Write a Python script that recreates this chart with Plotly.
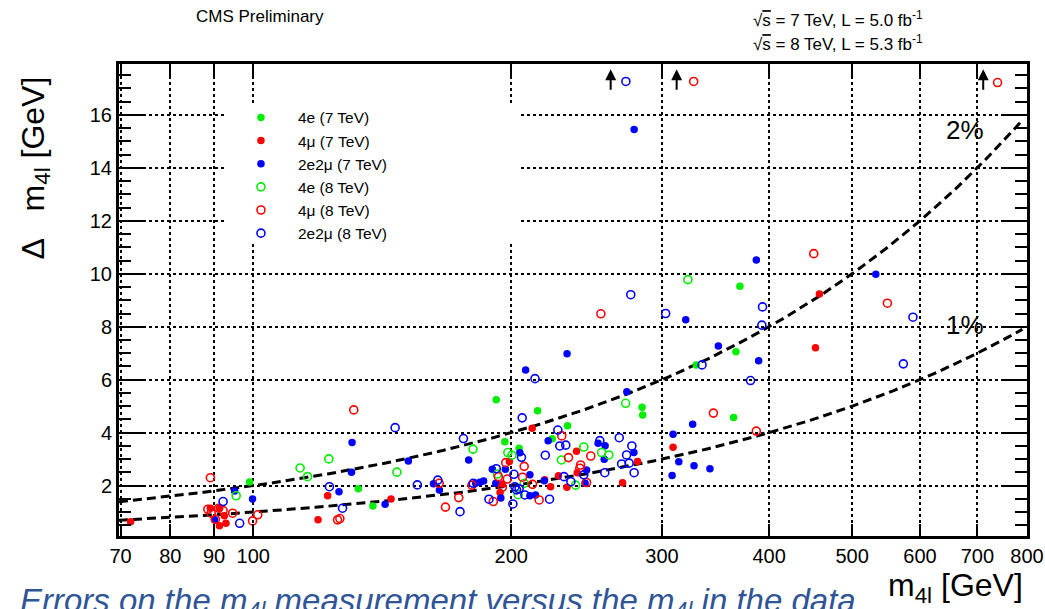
import numpy as np
import plotly.graph_objects as go

# ---------------- data ----------------
# 4e (7 TeV) - filled green
m_4e_7 = [99.0, 132.6, 137.9, 192.1, 196.6, 204.3, 214.7, 223.3, 232.7, 284.3, 284.8, 328.9, 363.6, 365.9, 369.8]
d_4e_7 = [2.14, 1.88, 1.23, 5.24, 3.66, 3.41, 4.83, 3.77, 4.26, 4.96, 4.67, 6.56, 4.57, 7.06, 9.53]

# 4mu (7 TeV) - filled red
m_4mu_7 = [71.9, 89.1, 91.3, 91.3, 92.5, 92.9, 119.0, 122.1, 144.8, 194.1, 195.3, 199.0, 211.6, 218.8, 222.3,
           227.1, 232.3, 238.4, 238.8, 269.8, 280.9, 309.0, 453.1, 457.9]
d_4mu_7 = [0.64, 1.15, 1.15, 0.49, 0.86, 0.58, 0.71, 1.62, 1.50, 1.74, 2.06, 2.91, 4.17, 2.22, 1.96,
           2.37, 1.94, 3.30, 2.49, 2.11, 2.91, 3.45, 7.21, 9.24]

# 2e2mu (7 TeV) - filled blue
m_2e2mu_7 = [90.1, 95.1, 99.8, 125.9, 130.2, 130.4, 142.5, 151.7, 162.3, 164.9,
             178.4, 181.8, 183.9, 185.7, 190.1, 191.9, 194.5, 196.9, 204.7, 207.9,
             210.3, 210.3, 213.5, 218.6, 220.9, 232.4, 243.9, 244.9, 252.6, 256.8,
             257.4, 272.9, 278.1, 278.3, 308.2, 309.0, 313.8, 319.7, 325.7, 326.9,
             341.2, 349.0, 386.5, 388.9, 532.8]
d_2e2mu_7 = [0.71, 1.80, 1.50, 1.77, 2.51, 3.63, 1.30, 2.93, 2.07, 1.84,
             2.97, 2.09, 2.13, 2.18, 2.62, 2.09, 1.53, 2.62, 3.24, 6.37,
             2.41, 1.62, 1.65, 2.19, 3.70, 6.98, 2.09, 2.59, 3.60, 3.00,
             3.51, 5.55, 3.25, 15.45, 2.38, 3.94, 2.90, 8.26, 4.32, 2.75,
             2.64, 7.27, 10.52, 6.72, 9.98]

# 4e (8 TeV) - open green
m_4e_8 = [95.5, 113.4, 115.7, 122.5, 147.1, 180.5, 192.7, 198.2, 200.4, 203.8, 207.1, 228.9, 237.8, 243.1,
          255.0, 260.0, 272.0, 321.6]
d_4e_8 = [1.62, 2.67, 2.34, 3.01, 2.51, 3.38, 2.44, 3.25, 3.15, 1.66, 2.09, 2.97, 2.02, 3.46,
          3.25, 3.16, 5.11, 9.78]

# 4mu (8 TeV) - open red (values at ~17.2 are overflow, drawn at the top with an arrow)
m_4mu_8 = [88.5, 89.1, 89.3, 90.3, 91.1, 92.2, 94.6, 99.8, 101.2,
           125.4, 126.2, 131.0,
           164.8, 167.6, 173.7, 180.0, 190.6, 193.2, 195.3, 197.1, 197.9,
           206.2, 207.1, 211.8, 215.6,
           229.1, 233.3, 240.5, 241.0, 244.9, 247.7, 254.5,
           326.6, 344.4, 386.5, 451.0, 549.7, 739.1]
d_4mu_8 = [1.11, 2.30, 0.96, 0.73, 1.15, 1.06, 0.96, 0.67, 0.90,
           0.71, 0.76, 4.86,
           2.09, 1.19, 1.55, 2.02, 1.40, 2.34, 1.94, 2.87, 2.25,
           2.32, 2.73, 2.05, 1.46,
           3.88, 3.06, 2.66, 2.78, 2.12, 3.12, 8.49,
           17.26, 4.74, 4.06, 10.76, 8.89, 17.22]

# 2e2mu (8 TeV) - open blue
m_2e2mu_8 = [92.2, 96.4, 122.7, 127.1, 146.4, 155.4, 164.2, 174.3, 175.9, 180.6,
             188.4, 192.1, 200.9, 201.5, 202.0, 202.9, 204.3, 205.6, 206.0, 207.5,
             213.2, 219.2, 221.7, 226.7, 227.9, 230.5, 231.6, 234.8, 243.1, 253.8,
             257.2, 267.4, 269.1, 272.2, 272.7, 274.6, 275.8, 276.6, 278.3, 302.9,
             334.0, 380.5, 392.3, 393.0, 573.8, 588.8]
d_2e2mu_8 = [1.40, 0.58, 1.96, 1.15, 4.19, 2.03, 2.21, 1.02, 3.78, 2.09,
             1.49, 2.64, 1.31, 2.43, 1.96, 1.84, 1.88, 3.07, 4.56, 1.65,
             6.04, 3.15, 1.49, 4.10, 3.50, 2.34, 3.53, 2.15, 2.41, 3.70,
             2.49, 3.81, 2.82, 17.26, 3.16, 2.85, 9.21, 3.50, 2.49, 8.50,
             6.56, 5.97, 8.06, 8.75, 6.60, 8.36]

# overflow arrows (m4l positions)
arrow_m = [261.3, 312.0, 711.2]
arrow_top = 17.72

# reference lines (relative resolution)
ref_pct = [0.02, 0.01]
ref_labels = ["2%", "1%"]

x_tickvals = [70, 80, 90, 100, 200, 300, 400, 500, 600, 700, 800]
x_ticktext = ["70", "80", "90", "100", "200", "300", "400", "500", "600", "700", "800"]
x_range = [69.7, 800]
y_range = [0.1, 17.92]

# white legend pad (hides the grid behind the legend), data coords
legend_pad_x = [92.5, 204.7]
legend_pad_y = [11.17, 16.45]

FONT = "Liberation Sans, Arial, Helvetica, sans-serif"
NB = "\u00a0"

fig = go.Figure()

# white pad behind legend (above grid, below marks)
fig.add_trace(go.Scatter(
    x=[legend_pad_x[0], legend_pad_x[1], legend_pad_x[1], legend_pad_x[0], legend_pad_x[0]],
    y=[legend_pad_y[0], legend_pad_y[0], legend_pad_y[1], legend_pad_y[1], legend_pad_y[0]],
    mode="lines", fill="toself", fillcolor="white", line=dict(width=0, color="white"),
    showlegend=False, hoverinfo="skip"))

# reference curves
m_line = np.geomspace(x_range[0], 790, 300)
for p in ref_pct:
    fig.add_trace(go.Scatter(x=m_line, y=p * m_line, mode="lines",
                             line=dict(color="black", width=3, dash="9px,5px"),
                             showlegend=False, hoverinfo="skip"))

series = [
    ("4e (7 TeV)", m_4e_7, d_4e_7, "#00ee00", False),
    ("4\u03bc (7 TeV)", m_4mu_7, d_4mu_7, "#ff0000", False),
    ("2e2\u03bc (7 TeV)", m_2e2mu_7, d_2e2mu_7, "#0000ff", False),
    ("4e (8 TeV)", m_4e_8, d_4e_8, "#00ee00", True),
    ("4\u03bc (8 TeV)", m_4mu_8, d_4mu_8, "#ff0000", True),
    ("2e2\u03bc (8 TeV)", m_2e2mu_8, d_2e2mu_8, "#0000ff", True),
]
for name, mx, dy, col, is_open in series:
    if is_open:
        mk = dict(symbol="circle-open", size=8, color=col, line=dict(width=1.6, color=col))
    else:
        mk = dict(symbol="circle", size=7.5, color=col, line=dict(width=0))
    fig.add_trace(go.Scatter(x=mx, y=dy, mode="markers", name=name, marker=mk))

annotations = []
for am in arrow_m:
    annotations.append(dict(x=np.log10(am), y=arrow_top, xref="x", yref="y", text="",
                            showarrow=True, ax=0, ay=22, arrowhead=2, arrowsize=1.1,
                            arrowwidth=2, arrowcolor="black"))

# percent labels
annotations.append(dict(x=0.9317, y=0.8602, xref="paper", yref="paper", xanchor="center", yanchor="middle",
                        text=ref_labels[0], showarrow=False,
                        font=dict(size=26, color="black", family=FONT)))
annotations.append(dict(x=0.9317, y=0.4470, xref="paper", yref="paper", xanchor="center", yanchor="middle",
                        text=ref_labels[1], showarrow=False,
                        font=dict(size=26, color="black", family=FONT)))

# header texts
annotations.append(dict(x=0.1553, y=1.0996, xref="paper", yref="paper", xanchor="center", yanchor="middle",
                        text="CMS Preliminary", showarrow=False,
                        font=dict(size=17, color="black", family=FONT)))
annotations.append(dict(x=0.888, y=1.0953, xref="paper", yref="paper", xanchor="right", yanchor="middle",
                        text="\u221a<span style='text-decoration:overline'>s</span> = 7 TeV, L = 5.0 fb<sup>-1</sup>",
                        showarrow=False, font=dict(size=17, color="black", family=FONT)))
annotations.append(dict(x=0.888, y=1.0445, xref="paper", yref="paper", xanchor="right", yanchor="middle",
                        text="\u221a<span style='text-decoration:overline'>s</span> = 8 TeV, L = 5.3 fb<sup>-1</sup>",
                        showarrow=False, font=dict(size=17, color="black", family=FONT)))

# axis titles
annotations.append(dict(x=-0.0925, y=0.9767, xref="paper", yref="paper", xanchor="center", yanchor="top",
                        text="\u0394" + NB + NB + NB + "m<sub>4l</sub>" + NB + "[GeV]", textangle=-90,
                        showarrow=False, font=dict(size=32, color="black", family=FONT)))
annotations.append(dict(x=0.9978, y=-0.1081, xref="paper", yref="paper", xanchor="right", yanchor="middle",
                        text="m<sub>4l</sub>" + NB + "[GeV]",
                        showarrow=False, font=dict(size=32, color="black", family=FONT)))

# caption
annotations.append(dict(x=-0.1112, y=-0.093, xref="paper", yref="paper", xanchor="left", yanchor="top",
                        text="<i>Errors on the m<sub>4l</sub> measurement versus the m<sub>4l</sub> in the data</i>",
                        showarrow=False, font=dict(size=33, color="#2f5597", family=FONT)))

fig.update_layout(
    width=1045, height=609,
    margin=dict(l=119, r=18, t=64, b=73, autoexpand=False),
    paper_bgcolor="white", plot_bgcolor="white",
    font=dict(family=FONT, color="black"),
    showlegend=True,
    legend=dict(x=0.1156, y=0.922, xanchor="left", yanchor="top",
                bgcolor="rgba(0,0,0,0)", borderwidth=0,
                font=dict(size=15.5, color="black", family=FONT),
                itemwidth=64, tracegroupgap=0),
    annotations=annotations,
)

fig.update_xaxes(type="log", range=[np.log10(x_range[0]), np.log10(x_range[1])],
                 tickvals=x_tickvals, ticktext=x_ticktext, automargin=False,
                 tickfont=dict(size=20, color="black", family=FONT),
                 ticks="inside", ticklen=12, tickwidth=2, tickcolor="black",
                 showline=True, linecolor="black", linewidth=3, mirror="allticks",
                 showgrid=True, gridcolor="black", gridwidth=1.5, griddash="dot",
                 zeroline=False)

fig.update_yaxes(range=y_range, dtick=2, tick0=0, automargin=False,
                 tickfont=dict(size=20, color="black", family=FONT),
                 ticks="inside", ticklen=24, tickwidth=2, tickcolor="black",
                 minor=dict(dtick=0.5, tick0=0, ticks="inside", ticklen=12, tickwidth=2,
                            tickcolor="black", showgrid=False),
                 showline=True, linecolor="black", linewidth=3, mirror="allticks",
                 showgrid=True, gridcolor="black", gridwidth=1.5, griddash="dot",
                 zeroline=False)

fig.write_html("out.html")
